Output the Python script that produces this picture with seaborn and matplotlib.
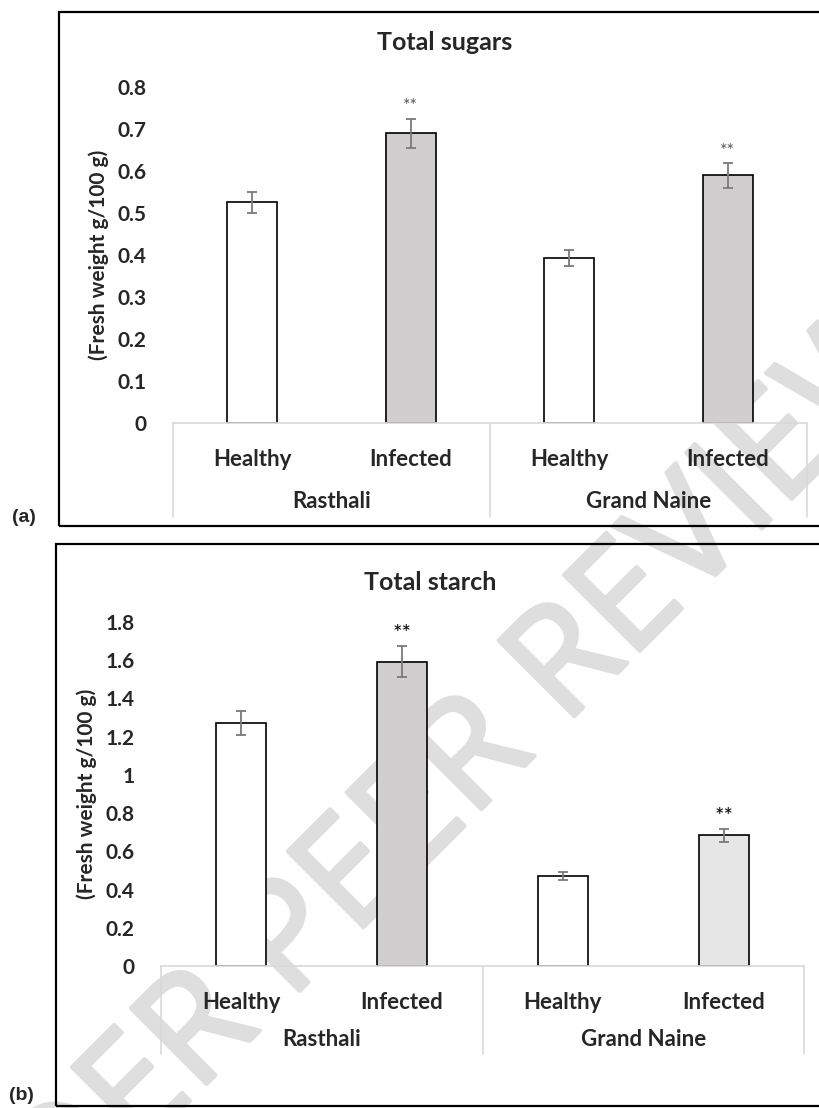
import numpy as np
import pandas as pd
import seaborn as sns
import matplotlib.pyplot as plt
import matplotlib.patheffects as pe
from matplotlib.patches import Rectangle

# data
groups = ['Rasthali', 'Rasthali', 'Grand Naine', 'Grand Naine']
status = ['Healthy', 'Infected', 'Healthy', 'Infected']
group_names = ['Rasthali', 'Grand Naine']
sugar_vals = [0.526, 0.690, 0.392, 0.590]
sugar_errs = [0.025, 0.035, 0.019, 0.030]
starch_vals = [1.272, 1.592, 0.471, 0.683]
starch_errs = [0.062, 0.080, 0.021, 0.034]
sig = ['', '**', '', '**']
sugar_ticks = [0, 0.1, 0.2, 0.3, 0.4, 0.5, 0.6, 0.7, 0.8]
sugar_ticklabels = ['0', '0.1', '0.2', '0.3', '0.4', '0.5', '0.6', '0.7', '0.8']
starch_ticks = [0, 0.2, 0.4, 0.6, 0.8, 1.0, 1.2, 1.4, 1.6, 1.8]
starch_ticklabels = ['0', '0.2', '0.4', '0.6', '0.8', '1', '1.2', '1.4', '1.6', '1.8']

sns.set_style("white")
plt.rcParams['font.family'] = ['Lato', 'DejaVu Sans']

W, H = 819, 1108
fig = plt.figure(figsize=(W / 100, H / 100), dpi=100)
fig.patch.set_facecolor('white')

# watermark behind everything
fig.text(393 / W, 1 - 842 / H, 'UNDER PEER REVIEW', rotation=45, fontsize=108,
         color='#dedede', ha='center', va='center', zorder=-5, family='Open Sans',
         path_effects=[pe.withStroke(linewidth=3, foreground='#dedede')])


def panel(rect, title, title_x, title_y, vals, errs, colors, ticks, ticklabels,
          ylim, width, star_size, star_color, box_depth, lab_dy, grp_dy):
    left, top, right, bottom = rect
    ax = fig.add_axes([left / W, 1 - bottom / H, (right - left) / W, (bottom - top) / H])
    ax.patch.set_alpha(0)
    df = pd.DataFrame({'key': [g + ' ' + s for g, s in zip(groups, status)],
                       'value': vals})
    sns.barplot(data=df, x='key', y='value', hue='key', palette=colors, width=width,
                edgecolor='black', linewidth=1.2, legend=False, errorbar=None, ax=ax)
    ax.errorbar(range(len(vals)), vals, yerr=errs, fmt='none', ecolor='#7a7a7a',
                elinewidth=1.3, capsize=3.5, capthick=1.3, zorder=5)
    for i, (v, e, s) in enumerate(zip(vals, errs, sig)):
        if s:
            ax.annotate(s, (i, v + e), xytext=(0, 12), textcoords='offset pixels',
                        ha='center', va='center', fontsize=star_size, color=star_color)
    ax.set_xlim(-0.5, 3.5)
    ax.set_ylim(*ylim)
    ax.set_yticks(ticks)
    ax.set_yticklabels(ticklabels, fontweight='bold', fontsize=15)
    ax.set_xticks(range(4))
    ax.set_xticklabels(status, fontweight='bold', fontsize=16)
    ax.tick_params(axis='y', length=0, pad=19)
    ax.tick_params(axis='x', length=0, pad=lab_dy)
    ax.set_xlabel('')
    ax.set_ylabel('(Fresh weight g/100 g)', fontweight='bold', fontsize=15, labelpad=6)
    for sp in ['left', 'right', 'top']:
        ax.spines[sp].set_visible(False)
    ax.spines['bottom'].set_color('#d9d9d9')
    ax.spines['bottom'].set_linewidth(1.2)
    tr = ax.get_xaxis_transform()
    depth = box_depth / (bottom - top)
    for xv in [-0.5, 1.5, 3.5]:
        ax.plot([xv, xv], [0, -depth], transform=tr, color='#d9d9d9', lw=1.2, clip_on=False)
    for j, name in enumerate(group_names):
        ax.annotate(name, (2 * j + 0.5, 0), xycoords=tr, xytext=(0, -grp_dy),
                    textcoords='offset pixels', ha='center', va='center',
                    fontweight='bold', fontsize=16)
    fig.text(title_x / W, 1 - title_y / H, title, ha='center', va='center',
             fontweight='bold', fontsize=18)
    return ax


panel((173, 87, 807, 423), 'Total sugars', 445, 43, sugar_vals, sugar_errs,
      ['white', '#d0cece', 'white', '#d0cece'], sugar_ticks, sugar_ticklabels,
      (0, 0.8), 0.315, 13, '#555555', 94, 19, 79)
panel((161, 622, 804, 966), 'Total starch', 430, 583, starch_vals, starch_errs,
      ['white', '#d0cece', 'white', '#e7e6e6'], starch_ticks, starch_ticklabels,
      (0, 1.8), 0.31, 16, 'black', 88, 19, 74)

# chart frames
fig.add_artist(Rectangle((59 / W, 1 - 526 / H), 780 / W, 514 / H, transform=fig.transFigure,
                         fill=False, edgecolor='black', lw=1.6))
fig.add_artist(Rectangle((56 / W, 1 - 1106 / H), 780 / W, 562 / H, transform=fig.transFigure,
                         fill=False, edgecolor='black', lw=1.6))
fig.text(24 / W, 1 - 518 / H, '(a)', ha='center', va='center', fontsize=14,
         fontweight='bold', family='Liberation Sans')
fig.text(21 / W, 1 - 1096 / H, '(b)', ha='center', va='center', fontsize=14,
         fontweight='bold', family='Liberation Sans')

fig.savefig('out.png', dpi=100)
